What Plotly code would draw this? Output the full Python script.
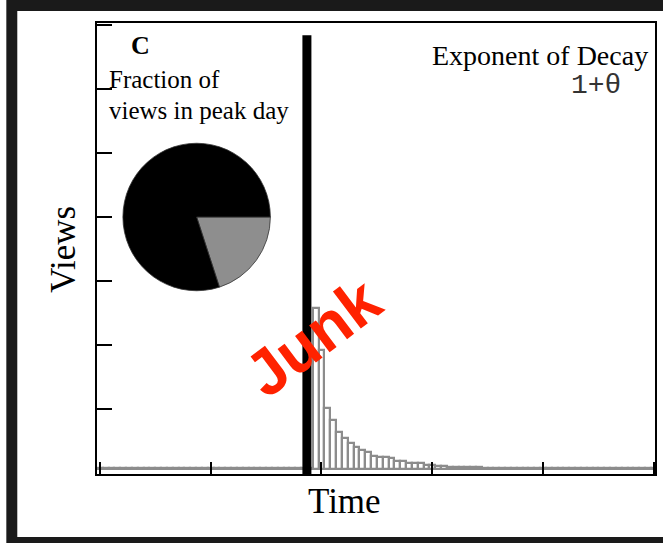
import plotly.graph_objects as go

# ---------------- data ----------------
days = list(range(0, 96))
pre_peak = [0.015] * 37
post_peak = [2.51, 1.85, 0.95, 0.76, 0.57, 0.49, 0.41, 0.34, 0.30, 0.26,
             0.21, 0.195, 0.18, 0.165, 0.13, 0.13, 0.10, 0.086, 0.086, 0.07,
             0.055, 0.05, 0.04, 0.035, 0.035, 0.03, 0.03, 0.025, 0.025, 0.02]
tail = [0.018] * (96 - 37 - len(post_peak))
views = pre_peak + post_peak + tail

event_day = [35.5, 35.5]
event_extent = [-0.08, 6.77]

pie_labels = ["peak day", "other days"]
pie_values = [0.2, 0.8]

x_ticks = [0, 19, 38, 57, 76, 95]

# ---------------- figure ----------------
W, H = 663, 543
ML, MR, MT, MB = 97, 6, 23, 69
PW, PH = W - ML - MR, H - MT - MB


def px(x):
    return (x - ML) / PW


def py(y):
    return (H - MB - y) / PH


fig = go.Figure()

fig.add_trace(go.Bar(
    x=days, y=views, width=1.0,
    marker=dict(color="white", line=dict(color="#8c8c8c", width=2.2)),
    showlegend=False, hoverinfo="skip"))

fig.add_trace(go.Scatter(
    x=event_day, y=event_extent, mode="lines",
    line=dict(color="black", width=9), showlegend=False, hoverinfo="skip"))

fig.add_trace(go.Pie(
    labels=pie_labels, values=pie_values, sort=False, direction="clockwise",
    rotation=90, textinfo="none", showlegend=False, hoverinfo="skip",
    marker=dict(colors=["#8e8e8e", "#000000"], line=dict(color="#333333", width=0.8)),
    domain=dict(x=[px(123), px(271)], y=[py(291), py(143)])))

serif = "Liberation Serif, Times New Roman, serif"
ann = []
ann.append(dict(text="<b>C</b>", x=px(141), y=py(45), font=dict(family=serif, size=26, color="black")))
ann.append(dict(text="Fraction of", x=px(107), y=py(79), xanchor="left", font=dict(family=serif, size=25, color="black")))
ann.append(dict(text="views in peak day", x=px(107), y=py(111), xanchor="left", font=dict(family=serif, size=25, color="black")))
ann.append(dict(text="Exponent of Decay", x=px(652), y=py(56), xanchor="right", font=dict(family=serif, size=28, color="black")))
ann.append(dict(text="1+θ", x=px(598), y=py(85), font=dict(family="Liberation Mono, Courier New, monospace", size=28, color="#333333")))
ann.append(dict(text="Views", x=px(63), y=py(250), textangle=-90, font=dict(family=serif, size=35, color="black")))
ann.append(dict(text="Time", x=px(345), y=py(502), font=dict(family=serif, size=35, color="black")))
ann.append(dict(text="<b>Junk</b>", x=px(314), y=py(337), textangle=-37,
                font=dict(family="Liberation Sans, Arial, sans-serif", size=64, color="#ff2200")))
for a in ann:
    a.update(xref="paper", yref="paper", showarrow=False)
    a.setdefault("xanchor", "center")
    a.setdefault("yanchor", "middle")

frame = "#1a1a1a"
# paper is the dark frame colour; white panels are laid over it
shapes = [
    dict(type="rect", xref="paper", yref="paper", x0=px(17), x1=px(700), y0=py(537), y1=py(11),
         fillcolor="white", line=dict(width=0), layer="below"),
    dict(type="rect", xref="paper", yref="paper", x0=px(-20), x1=px(6), y0=py(600), y1=py(-30),
         fillcolor="white", line=dict(width=0), layer="below"),
]

fig.update_layout(
    width=W, height=H,
    margin=dict(l=ML, r=MR, t=MT, b=MB),
    paper_bgcolor=frame, plot_bgcolor="white",
    bargap=0,
    annotations=ann, shapes=shapes,
    xaxis=dict(range=[-0.5, 95.2], tickvals=x_ticks, ticktext=[""] * len(x_ticks),
               ticks="inside", ticklen=12, tickwidth=2, tickcolor="black",
               showline=True, linecolor="black", linewidth=2, mirror=True,
               showgrid=False, zeroline=False),
    yaxis=dict(range=[-0.078, 6.96], tick0=0.93, dtick=1, showticklabels=False,
               ticks="inside", ticklen=15, tickwidth=2, tickcolor="black",
               showline=True, linecolor="black", linewidth=2, mirror=True,
               showgrid=False, zeroline=False),
)

fig.write_html("out.html", config={"displayModeBar": False},
               post_script="document.body.style.margin='0';document.body.style.overflow='hidden';")
